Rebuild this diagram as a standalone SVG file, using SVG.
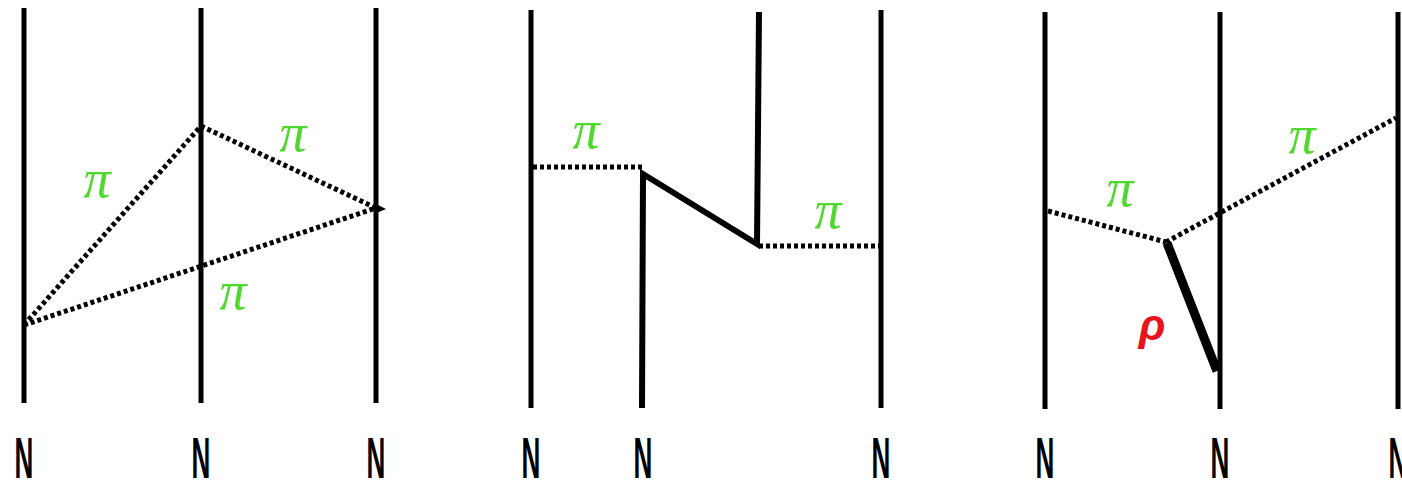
<svg xmlns="http://www.w3.org/2000/svg" width="1402" height="491" viewBox="0 0 1402 491">
<style>
.n{stroke:#000;stroke-width:5;fill:none;stroke-linecap:butt}
.d{stroke:#000;stroke-width:5;fill:none;stroke-dasharray:4 3}
.t{stroke:#000;stroke-width:6;fill:none;stroke-linejoin:miter}
.r{stroke:#000;stroke-width:9;fill:none}
.pi{font-family:"Liberation Serif",serif;font-size:54px;font-style:italic;fill:#4fd82d}
.rho{font-family:"Liberation Sans",sans-serif;font-size:44px;font-weight:bold;font-style:italic;fill:#e8141c}
.N{font-family:"Liberation Sans",sans-serif;font-size:58px;font-weight:bold;fill:#000}
</style>
<rect width="1402" height="491" fill="#fff"/>
<g id="panel1-nucleons">
<line class="n" x1="24" y1="8" x2="24" y2="403"/>
<line class="n" x1="201" y1="8" x2="201" y2="403"/>
<line class="n" x1="376" y1="8" x2="376" y2="403"/>
</g>
<g id="panel2-nucleons">
<line class="n" x1="531" y1="10" x2="531" y2="408"/>
<polyline class="t" points="642,408 643,174 757,244 759,12"/>
<line class="n" x1="881" y1="10" x2="881" y2="408"/>
</g>
<g id="panel3-nucleons">
<line class="n" x1="1045" y1="12" x2="1045" y2="409"/>
<line class="n" x1="1220" y1="12" x2="1220" y2="409"/>
<line class="n" x1="1398" y1="12" x2="1398" y2="409"/>
</g>
<g id="connectors">
<line class="d" x1="24" y1="325" x2="201" y2="126"/>
<line class="d" x1="201" y1="126" x2="376" y2="208"/>
<line class="d" x1="24" y1="325" x2="376" y2="208"/>
<polygon points="374,203 386,209 374,214" fill="#000"/>
<line class="d" x1="533" y1="167" x2="642" y2="167"/>
<line class="d" x1="759" y1="246" x2="879" y2="246"/>
<line class="d" x1="1048" y1="211" x2="1166" y2="242"/>
<line class="d" x1="1166" y1="242" x2="1396" y2="118"/>
<line class="r" x1="1167" y1="243" x2="1217" y2="371"/>
</g>
<g id="labels">
<text class="pi" x="97" y="197" text-anchor="middle">π</text>
<text class="pi" x="293" y="151" text-anchor="middle">π</text>
<text class="pi" x="233" y="309" text-anchor="middle">π</text>
<text class="pi" x="586" y="148" text-anchor="middle">π</text>
<text class="pi" x="828" y="228" text-anchor="middle">π</text>
<text class="pi" x="1120" y="206" text-anchor="middle">π</text>
<text class="pi" x="1302" y="153" text-anchor="middle">π</text>
<text class="rho" x="1152" y="340" text-anchor="middle">ρ</text>
</g>
<g id="N-labels">
<text class="N" transform="translate(24,478) scale(0.45,1)" text-anchor="middle">N</text>
<text class="N" transform="translate(201,478) scale(0.45,1)" text-anchor="middle">N</text>
<text class="N" transform="translate(376,478) scale(0.45,1)" text-anchor="middle">N</text>
<text class="N" transform="translate(531,478) scale(0.45,1)" text-anchor="middle">N</text>
<text class="N" transform="translate(643,478) scale(0.45,1)" text-anchor="middle">N</text>
<text class="N" transform="translate(881,478) scale(0.45,1)" text-anchor="middle">N</text>
<text class="N" transform="translate(1045,478) scale(0.45,1)" text-anchor="middle">N</text>
<text class="N" transform="translate(1220,478) scale(0.45,1)" text-anchor="middle">N</text>
<text class="N" transform="translate(1398,478) scale(0.45,1)" text-anchor="middle">N</text>
</g>
</svg>
